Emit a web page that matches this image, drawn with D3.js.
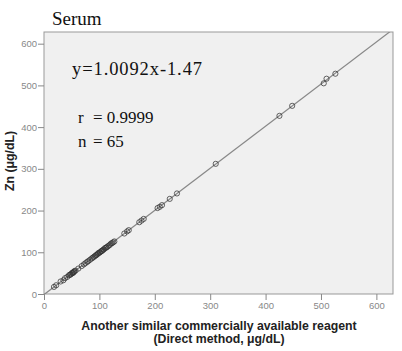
<!doctype html>
<head>
    <meta charset="utf-8">
    <title>Serum Zn</title>
    <script src="https://cdn.jsdelivr.net/npm/d3@7"></script>
    <style>
        body { margin: 0; background: #fff; }
        .axis path { stroke: #999; }
        .axis line { stroke: #888; }
        .axis text { font-family: "Liberation Sans", Arial, sans-serif; font-size: 9.5px; fill: #888; }
        .title { font-family: "Liberation Sans", Arial, sans-serif; font-weight: bold; font-size: 12.3px; fill: #222; }
        .serif { font-family: "Liberation Serif", "Times New Roman", serif; fill: #111; }
    </style>
</head>
<body>
<script>
    "use strict";

    const directX = [18, 22, 30, 35, 38, 42, 45, 47, 48, 50, 51, 52, 53, 54, 55, 57, 62, 68, 72, 75,
        78, 80, 83, 86, 88, 90, 92, 94, 95, 97, 98, 100, 101, 103, 104, 105, 107, 108, 110, 112,
        113, 115, 117, 119, 121, 123, 125, 127, 145, 150, 153, 172, 176, 180, 205, 209, 213, 227, 240, 310,
        425, 448, 505, 510, 526];
    const znY = [17, 21, 30, 33, 38, 41, 45, 46, 47, 49, 51, 50, 52, 53, 55, 56, 61, 67, 71, 74,
        77, 79, 82, 85, 87, 89, 91, 93, 94, 96, 98, 99, 100, 102, 103, 104, 106, 107, 110, 111,
        112, 114, 116, 118, 121, 122, 124, 126, 145, 150, 153, 172, 176, 180, 206, 209, 213, 228, 241, 312,
        427, 451, 505, 516, 528];
    const ticks = [0, 100, 200, 300, 400, 500, 600];
    const slope = 1.0092, intercept = -1.47;

    const width = 402, height = 351;
    const margin = { top: 32, right: 9, bottom: 57, left: 44 };

    const x = d3.scaleLinear().domain([0, 630]).range([margin.left, width - margin.right]);
    const y = d3.scaleLinear().domain([0, 628]).range([height - margin.bottom, margin.top]);

    const svg = d3.select("body").append("svg")
        .attr("width", width).attr("height", height);

    svg.append("rect")
        .attr("x", x(0)).attr("y", y(628))
        .attr("width", x(630) - x(0)).attr("height", y(0) - y(628))
        .attr("fill", "#f0f0f0").attr("stroke", "#999");

    svg.append("defs").append("clipPath").attr("id", "clip")
        .append("rect")
        .attr("x", x(0)).attr("y", y(628))
        .attr("width", x(630) - x(0)).attr("height", y(0) - y(628));

    svg.append("g")
        .attr("class", "axis")
        .attr("transform", `translate(0,${y(0)})`)
        .call(d3.axisBottom(x).tickValues(ticks).tickSize(6).tickPadding(2).tickSizeOuter(0))
        .call(g => g.select(".domain").remove());

    svg.append("g")
        .attr("class", "axis")
        .attr("transform", `translate(${x(0)},0)`)
        .call(d3.axisLeft(y).tickValues(ticks).tickSize(6).tickPadding(1).tickSizeOuter(0))
        .call(g => g.select(".domain").remove());

    // fitted line
    svg.append("line")
        .attr("clip-path", "url(#clip)")
        .attr("x1", x(0)).attr("y1", y(intercept))
        .attr("x2", x(630)).attr("y2", y(slope * 630 + intercept))
        .attr("stroke", "#888").attr("stroke-width", 1.2);

    svg.append("g")
        .selectAll("circle")
        .data(directX)
        .join("circle")
        .attr("cx", d => x(d))
        .attr("cy", (d, i) => y(znY[i]))
        .attr("r", 2.6)
        .attr("fill", "none")
        .attr("stroke", "#333")
        .attr("stroke-opacity", 0.75)
        .attr("stroke-width", 1);

    svg.append("text").attr("class", "serif")
        .attr("x", 52).attr("y", 25).attr("font-size", 19).text("Serum");

    svg.append("text").attr("class", "serif")
        .attr("x", 72).attr("y", 75).attr("font-size", 18.5)
        .attr("letter-spacing", 0.9).text("y=1.0092x-1.47");
    svg.append("text").attr("class", "serif")
        .attr("x", 78).attr("y", 123).attr("font-size", 17).text("r");
    svg.append("text").attr("class", "serif")
        .attr("x", 93).attr("y", 123).attr("font-size", 17).text("= 0.9999");
    svg.append("text").attr("class", "serif")
        .attr("x", 78).attr("y", 147).attr("font-size", 17).text("n");
    svg.append("text").attr("class", "serif")
        .attr("x", 93).attr("y", 147).attr("font-size", 17).text("= 65");

    svg.append("text").attr("class", "title")
        .attr("x", 219).attr("y", 330).attr("text-anchor", "middle")
        .text("Another similar commercially available reagent");
    svg.append("text").attr("class", "title")
        .attr("x", 219).attr("y", 343).attr("text-anchor", "middle")
        .text("(Direct method, μg/dL)");

    svg.append("text").attr("class", "title")
        .attr("transform", `translate(14,161) rotate(-90)`)
        .attr("text-anchor", "middle")
        .text("Zn (μg/dL)");
</script>
</body>
</html>
